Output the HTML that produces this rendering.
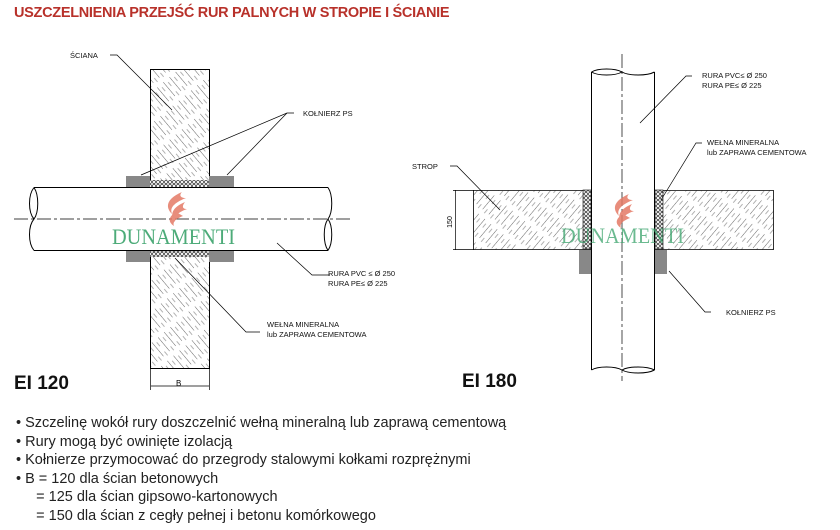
<!DOCTYPE html>
<html><head><meta charset="utf-8"><style>
body{margin:0;width:840px;height:530px;background:#fff;overflow:hidden;position:relative;font-family:"Liberation Sans",sans-serif}
.t{position:absolute;left:14px;top:5px;color:#b8312a;font-weight:bold;font-size:14.5px;letter-spacing:-0.3px}
.b{position:absolute;left:16px;top:414px;font-size:14.5px;line-height:18.5px;color:#222}
.b div{white-space:nowrap}
</style></head><body>
<div class="t">USZCZELNIENIA PRZEJŚĆ RUR PALNYCH W STROPIE I ŚCIANIE</div>
<svg width="840" height="530" style="position:absolute;left:0;top:0">
<defs>
<pattern id="h1" width="8" height="24" patternUnits="userSpaceOnUse" patternTransform="rotate(-40)">
<line x1="0" y1="0" x2="0" y2="24" stroke="#222" stroke-width="0.7" stroke-dasharray="18 6"/>
<line x1="4" y1="3" x2="4" y2="24" stroke="#666" stroke-width="0.5" stroke-dasharray="5 7"/></pattern>
<pattern id="h2" width="8" height="24" patternUnits="userSpaceOnUse" patternTransform="rotate(40)">
<line x1="0" y1="0" x2="0" y2="24" stroke="#222" stroke-width="0.7" stroke-dasharray="18 6"/>
<line x1="4" y1="3" x2="4" y2="24" stroke="#666" stroke-width="0.5" stroke-dasharray="5 7"/></pattern>
<pattern id="w" width="4" height="4" patternUnits="userSpaceOnUse"><rect width="4" height="4" fill="#fff"/><circle cx="2" cy="2" r="1.5" fill="none" stroke="#333" stroke-width="0.7"/></pattern>
</defs>
<g stroke="#000" stroke-width="1" fill="none" font-family="Liberation Sans,sans-serif">
<rect x="150.5" y="69.5" width="59" height="299" fill="url(#h1)"/>
<rect x="150" y="180" width="59" height="7" fill="url(#w)" stroke="none"/>
<rect x="150" y="251" width="59" height="6" fill="url(#w)" stroke="none"/>
<rect x="126" y="176" width="24" height="11" fill="#888" stroke="none"/>
<rect x="209" y="176" width="25" height="11" fill="#888" stroke="none"/>
<rect x="126" y="251" width="24" height="11" fill="#888" stroke="none"/>
<rect x="209" y="251" width="25" height="11" fill="#888" stroke="none"/>
<path d="M34 187.5H328M34 250.5H328" />
<rect x="34" y="188" width="294" height="62" fill="#fff" stroke="none"/>
<path d="M34 187.5C28 195 28 212 34 219C28 226 28 243 34 250.5M34 187.5C39 195 39 212 34 219M328 187.5C333 195 333 212 328 219C333 226 333 243 328 250.5M328 219C323 226 323 243 328 250.5" />
<path d="M14 219H352" stroke-dasharray="14 3 3 3" stroke-width="0.7"/>
<path d="M150.5 368v22M209.5 368v22M151 386H209" stroke-width="0.7"/>
<text x="176" y="386" font-size="8" stroke="none" fill="#000">B</text>
<g stroke-width="0.7">
<path d="M110 55H117L172 110"/>
<path d="M294 113H287L141 175"/>
<path d="M287 113L227 175"/>
<path d="M330 275H312L277 243"/>
<path d="M260 332H246L175 258"/>
</g>
<g stroke="none" fill="#111" font-size="7.5">
<text x="70" y="58">ŚCIANA</text>
<text x="303" y="116">KOŁNIERZ PS</text>
<text x="328" y="276">RURA PVC  ≤ Ø 250</text>
<text x="328" y="286">RURA PE≤  Ø 225</text>
<text x="267" y="327">WEŁNA MINERALNA</text>
<text x="267" y="337">lub ZAPRAWA CEMENTOWA</text>
</g>
<rect x="473.5" y="190.5" width="300" height="59" fill="url(#h2)" stroke="none"/>
<path d="M453 190.5H773M453 249.5H773M473.5 190v60M773.5 190v60" stroke-width="0.8"/>
<path d="M455.5 190v60" stroke-width="0.7"/>
<text x="454" y="222" font-size="7" stroke="none" fill="#000" transform="rotate(-90 454 222)" text-anchor="middle" dy="-2">150</text>
<rect x="583" y="190" width="8" height="59" fill="url(#w)" stroke="#000" stroke-width="0.6"/>
<rect x="655" y="190" width="8" height="59" fill="url(#w)" stroke="#000" stroke-width="0.6"/>
<rect x="579" y="250" width="12" height="24" fill="#888" stroke="none"/>
<rect x="655" y="250" width="12" height="24" fill="#888" stroke="none"/>
<rect x="591.5" y="72" width="63" height="298" fill="#fff" stroke="none"/>
<path d="M591.5 72V370M654.5 72V370"/>
<path d="M591.5 72C598 68 615 68 622 72C629 76 647 76 654.5 72M591.5 72C598 76 615 76 622 72M591.5 370C598 366 615 366 622 370C629 374 647 374 654.5 370M622 370C629 366 647 366 654.5 370"/>
<path d="M622 54V381" stroke-dasharray="14 3 3 3" stroke-width="0.7"/>
<g stroke-width="0.7">
<path d="M692 76H686L640 123"/>
<path d="M450 166H457L500 210"/>
<path d="M702 143H696L661 200"/>
<path d="M711 312H705L669 271"/>
</g>
<g stroke="none" fill="#111" font-size="7.5">
<text x="702" y="78">RURA PVC≤ Ø 250</text>
<text x="702" y="88">RURA PE≤ Ø 225</text>
<text x="707" y="145">WEŁNA MINERALNA</text>
<text x="707" y="155">lub ZAPRAWA CEMENTOWA</text>
<text x="412" y="169">STROP</text>
<text x="726" y="315">KOŁNIERZ PS</text>
</g>
</g>
<g fill="#e47a66" opacity="0.85">
<path d="M182 192c-14 6-18 14-10 22c-3-7 4-12 14-16c-6 0-7-3-4-6z"/>
<path d="M185 202c-12 5-16 12-10 20c-2-6 4-10 12-13c-5 0-5-3-2-7z"/>
<path d="M176 212c-8 5-8 10-2 14c-2-5 4-8 9-10z"/>
<path d="M629 194c-14 6-18 14-10 22c-3-7 4-12 14-16c-6 0-7-3-4-6z"/>
<path d="M632 204c-12 5-16 12-10 20c-2-6 4-10 12-13c-5 0-5-3-2-7z"/>
<path d="M623 214c-8 5-8 10-2 14c-2-5 4-8 9-10z"/>
</g>
<text x="112" y="244" font-family="Liberation Serif,serif" font-size="22" fill="#3aa36b" opacity="0.9" textLength="123" lengthAdjust="spacingAndGlyphs">DUNAMENTI</text>
<text x="561" y="243" font-family="Liberation Serif,serif" font-size="22" fill="#3aa36b" opacity="0.75" textLength="123" lengthAdjust="spacingAndGlyphs">DUNAMENTI</text>
<text x="14" y="389" font-family="Liberation Sans,sans-serif" font-weight="bold" font-size="19" fill="#111">EI 120</text>
<text x="462" y="387" font-family="Liberation Sans,sans-serif" font-weight="bold" font-size="19" fill="#111">EI 180</text>
</svg>
<div class="b">
<div>• Szczelinę wokół rury doszczelnić wełną mineralną lub zaprawą cementową</div>
<div>• Rury mogą być owinięte izolacją</div>
<div>• Kołnierze przymocować do przegrody stalowymi kołkami rozprężnymi</div>
<div>• B = 120 dla ścian betonowych</div>
<div>&nbsp;&nbsp;&nbsp;&nbsp;&nbsp;= 125 dla ścian gipsowo-kartonowych</div>
<div>&nbsp;&nbsp;&nbsp;&nbsp;&nbsp;= 150 dla ścian z cegły pełnej i betonu komórkowego</div>
</div>
</body></html>
